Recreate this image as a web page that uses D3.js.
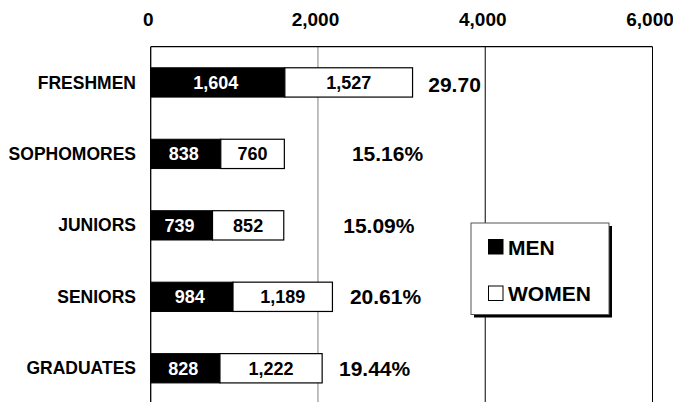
<!DOCTYPE html>
<html>
<head>
<meta charset="utf-8">
<script src="https://cdn.jsdelivr.net/npm/d3@7"></script>
<style>
  body { margin: 0; background: #fff; }
  svg text { font-family: "Liberation Sans", Arial, sans-serif; font-weight: bold; }
</style>
</head>
<body>
<div id="chart"></div>
<script>
// class data
const classes = ["FRESHMEN", "SOPHOMORES", "JUNIORS", "SENIORS", "GRADUATES"];
const men = [1604, 838, 739, 984, 828];
const women = [1527, 760, 852, 1189, 1222];
const shares = ["29.70", "15.16%", "15.09%", "20.61%", "19.44%"];
const tickValues = [0, 2000, 4000, 6000];
// where each share label starts, in axis units (they sit loosely in the original)
const shareLabelAt = [3319, 2406, 2302, 2382, 2251];

const width = 673;
const height = 402;
const plot = { left: 150.7, right: 652.5, top: 46.7, bottom: 404 };

const svg = d3.select("#chart").append("svg")
    .attr("width", width)
    .attr("height", height);

const x = d3.scaleLinear()
    .domain([0, 6000])
    .range([plot.left, plot.right]);

const y = d3.scaleBand()
    .domain(classes)
    .range([plot.top, plot.bottom])
    .paddingInner(0.59)
    .paddingOuter(0.295);

// gridlines (2,000 is grey, the others black)
svg.append("g").selectAll("line")
    .data(tickValues.slice(1))
    .join("line")
    .attr("x1", d => x(d)).attr("x2", d => x(d))
    .attr("y1", plot.top).attr("y2", plot.bottom)
    .attr("stroke", d => d === 2000 ? "#808080" : "#000")
    .attr("stroke-width", 1);

// top border and the zero line
svg.append("line")
    .attr("x1", plot.left).attr("x2", plot.right)
    .attr("y1", plot.top).attr("y2", plot.top)
    .attr("stroke", "#000").attr("stroke-width", 1.3);
svg.append("line")
    .attr("x1", x(0)).attr("x2", x(0))
    .attr("y1", plot.top).attr("y2", plot.bottom)
    .attr("stroke", "#000").attr("stroke-width", 1.3);

// top axis labels
const axis = svg.append("g")
    .attr("transform", "translate(-3,26)")
    .call(d3.axisTop(x).tickValues(tickValues).tickFormat(d3.format(",")).tickSize(0).tickPadding(0));
axis.select(".domain").remove();
axis.selectAll("text")
    .attr("font-size", 19)
    .attr("fill", "#000")
    .attr("font-family", "Liberation Sans, Arial, sans-serif")
    .attr("font-weight", "bold");

// category labels
svg.append("g").selectAll("text")
    .data(classes)
    .join("text")
    .attr("x", 136)
    .attr("y", d => y(d) + y.bandwidth() / 2)
    .attr("dy", "0.35em")
    .attr("text-anchor", "end")
    .attr("font-size", 17.5)
    .text(d => d);

const rows = classes.map((c, i) => ({ c, m: men[i], w: women[i], s: shares[i], at: shareLabelAt[i] }));

// men bars
svg.append("g").selectAll("rect")
    .data(rows)
    .join("rect")
    .attr("x", x(0))
    .attr("y", d => y(d.c))
    .attr("width", d => x(d.m) - x(0))
    .attr("height", y.bandwidth())
    .attr("fill", "#000")
    .attr("stroke", "#000");

// women bars stacked after men
svg.append("g").selectAll("rect")
    .data(rows)
    .join("rect")
    .attr("x", d => x(d.m))
    .attr("y", d => y(d.c))
    .attr("width", d => x(d.m + d.w) - x(d.m))
    .attr("height", y.bandwidth())
    .attr("fill", "#fff")
    .attr("stroke", "#000")
    .attr("stroke-width", 1.2);

const fmt = d3.format(",");

// values inside bars
svg.append("g").selectAll("text")
    .data(rows)
    .join("text")
    .attr("x", d => (x(0) + x(d.m)) / 2 - 2)
    .attr("y", d => y(d.c) + y.bandwidth() / 2)
    .attr("dy", "0.36em")
    .attr("text-anchor", "middle")
    .attr("font-size", 18)
    .attr("fill", "#fff")
    .text(d => fmt(d.m));

svg.append("g").selectAll("text")
    .data(rows)
    .join("text")
    .attr("x", d => (x(d.m) + x(d.m + d.w)) / 2)
    .attr("y", d => y(d.c) + y.bandwidth() / 2)
    .attr("dy", "0.36em")
    .attr("text-anchor", "middle")
    .attr("font-size", 18)
    .attr("fill", "#000")
    .text(d => fmt(d.w));

// share labels
svg.append("g").selectAll("text")
    .data(rows)
    .join("text")
    .attr("x", d => x(d.at))
    .attr("y", (d, i) => y(d.c) + y.bandwidth() / 2 + (i === 0 ? 2 : 0))
    .attr("dy", "0.36em")
    .attr("font-size", 21)
    .attr("fill", "#000")
    .text(d => d.s);

// legend with drop shadow
const legend = svg.append("g").attr("transform", "translate(471,223)");
legend.append("rect")
    .attr("x", 3).attr("y", 3)
    .attr("width", 138).attr("height", 91.5)
    .attr("fill", "#000");
legend.append("rect")
    .attr("x", 0).attr("y", 0)
    .attr("width", 138).attr("height", 91.5)
    .attr("fill", "#fff")
    .attr("stroke", "#555")
    .attr("stroke-width", 1);

const legendItems = [
    { label: "MEN", fill: "#000", y: 16.5 },
    { label: "WOMEN", fill: "#fff", y: 63 }
];
legend.selectAll("rect.key")
    .data(legendItems)
    .join("rect")
    .attr("class", "key")
    .attr("x", 17.5).attr("y", d => d.y)
    .attr("width", 14.5).attr("height", 14.5)
    .attr("fill", d => d.fill)
    .attr("stroke", "#000");
legend.selectAll("text")
    .data(legendItems)
    .join("text")
    .attr("x", 37)
    .attr("y", d => d.y + 7.5)
    .attr("dy", "0.36em")
    .attr("font-size", 21)
    .text(d => d.label);
</script>
</body>
</html>
